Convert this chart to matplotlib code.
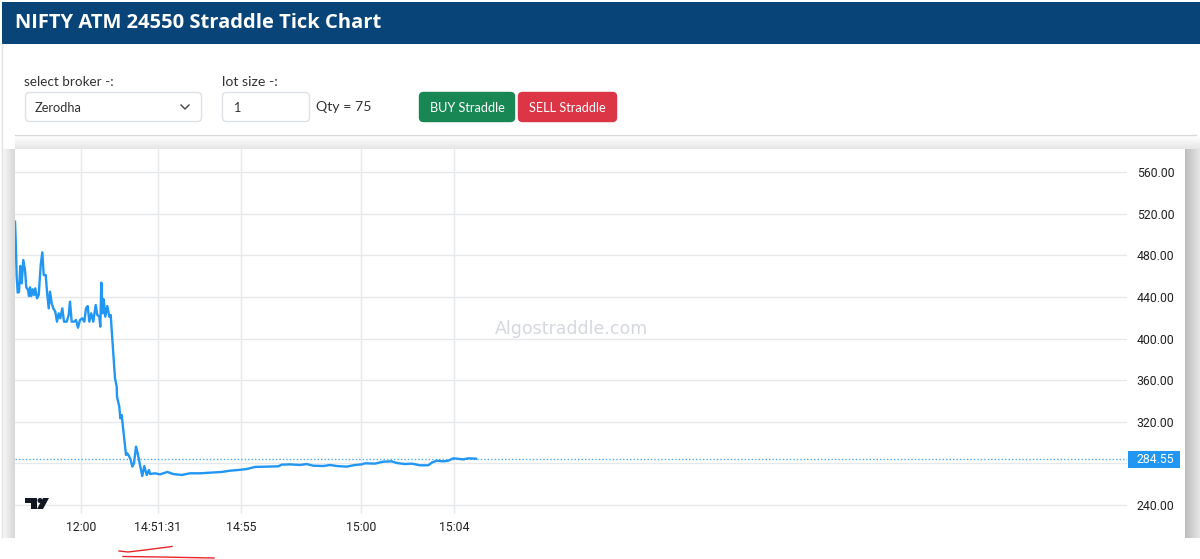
import numpy as np
import matplotlib
matplotlib.use("Agg")
import matplotlib.pyplot as plt
from matplotlib.patches import Circle, FancyBboxPatch, Polygon, Rectangle

# tick number (one chart pixel per tick) and straddle price
tick_no = [0, .7, 1.7, 2.7, 4, 5.3, 6.7, 8.3, 10, 11.3, 13, 14, 15, 16.3, 17.7, 19, 20.3, 22, 23.7, 25.7,
           27.3, 28.7, 30.7, 32, 33.7, 35, 36.7, 38.3, 40.3, 42, 43.7, 45.3, 47.3, 49, 51.7, 53.7, 55, 56.7, 59, 61,
           63, 65, 67.3, 69.3, 71, 72.7, 74.3, 76.3, 78.3, 80.7, 82.3, 84.3, 85.3, 86.3, 87.7, 88.7, 90.3, 92.3, 94.3, 95.7,
           96.7, 98.3, 100, 101.7, 102, 104.3, 105.3, 106.7, 108.3, 111, 112.3, 114.3, 115.7, 117.3, 119, 121, 122.3, 125, 127.3, 129.3,
           131.7, 134, 135, 140, 145, 152.3, 158.3, 166.7, 175, 185, 195, 206.7, 215, 223.3, 231.7, 240, 251.7, 263.3, 266.7, 275,
           285, 291.7, 298.3, 308.3, 315, 321.7, 331.7, 340, 346.7, 350, 360, 368.3, 376.7, 381.7, 390, 396.7, 405, 413.3, 416.7, 421.7,
           428.3, 433.3, 438.3, 448.3, 453.3, 461]
price = [512.3, 494.7, 459.4, 444.1, 444.7, 469.7, 453, 475.4, 465.8, 449.2, 446.6, 440.8, 449.2, 440.8, 447.3, 441.8, 448.2, 438.6, 441.8, 470.6,
         482.8, 461, 461, 445, 429, 445, 433.8, 429, 425.8, 416.2, 424.2, 419.4, 429, 416.2, 416.2, 422.6, 435.4, 416.2, 416.2, 417.8,
         410.4, 417.8, 419.4, 416.2, 429, 431.2, 416.2, 424.2, 416.2, 432.2, 422.6, 421, 411.4, 453.7, 424.2, 437.7, 421, 431.2, 421, 422.6,
         408.2, 385.8, 361.8, 353.8, 344.1, 334.5, 323.3, 326.5, 312.1, 288.1, 289.7, 286.5, 283.3, 276.9, 280.1, 296.1, 291.3, 278.5, 267.9, 277.5,
         268.9, 273.7, 269.8, 270.5, 269.5, 271.8, 269.8, 268.9, 270.5, 270.5, 271.1, 271.8, 273, 273.7, 274.6, 276.6, 276.9, 277.2, 278.8, 279.1,
         278.5, 279.4, 277.8, 277.5, 278.5, 277.5, 276.9, 278.5, 279.1, 280.1, 279.8, 281.7, 282, 280.4, 279.4, 279.8, 278.2, 278.2, 280.7, 282.6,
         282, 282.6, 284.9, 283.9, 284.9, 284.55]
last_price = 284.55

time_ticks = [66, 143, 226, 346, 439]
time_labels = ["12:00", "14:51:31", "14:55", "15:00", "15:04"]
price_ticks = [240, 280, 320, 360, 400, 440, 480, 520, 560]
price_labels = ["240.00", "", "320.00", "360.00", "400.00", "440.00", "480.00", "520.00", "560.00"]  # 280 sits under the last price tag

BLUE = "#2196f3"
GRID = "#e6e9ec"
UI_FONT = "Lato"

fig = plt.figure(figsize=(12, 5.59), dpi=100, facecolor="white")

# page furniture, drawn in pixel coordinates
page = fig.add_axes([0, 0, 1, 1])

page.add_patch(Rectangle((2, 2), 1198, 42, color="#084478", lw=0))
page.text(15, 23.5, "NIFTY ATM 24550 Straddle Tick Chart", color="white", fontsize=14.5,
          fontweight="bold", family="Open Sans", va="center")
page.plot([2, 2], [44, 537], color="#e3e3e3", lw=1)

page.text(24, 82, "select broker -:", fontsize=9.7, family=UI_FONT, color="#333333", va="center")
page.text(222, 82, "lot size -:", fontsize=10.2, family=UI_FONT, color="#333333", va="center")
page.text(316, 107, "Qty = 75", fontsize=10.2, family=UI_FONT, color="#333333", va="center")


def box(x0, x1, face, edge):
    page.add_patch(FancyBboxPatch((x0 + 3.5, 95.5), x1 - x0 - 7, 23, boxstyle="round,pad=3,rounding_size=4",
                                  facecolor=face, edgecolor=edge, lw=1))


box(25, 202, "white", "#dee2e6")
box(222, 310, "white", "#dee2e6")
box(419, 515, "#198754", "#198754")
box(518, 617, "#dc3545", "#dc3545")
page.text(35, 107.5, "Zerodha", fontsize=9.2, family=UI_FONT, color="#333333", va="center")
page.text(233, 107.5, "1", fontsize=9.2, family=UI_FONT, color="#333333", va="center")
page.plot([181, 185, 189], [105, 109, 105], color="#444444", lw=1)
page.text(467, 107.5, "BUY Straddle", fontsize=9.2, family=UI_FONT, color="white", va="center", ha="center")
page.text(567.5, 107.5, "SELL Straddle", fontsize=9.2, family=UI_FONT, color="white", va="center", ha="center")

# shadows around the chart panel
left_fade = np.linspace(0.97, 0.84, 32).reshape(1, -1)
right_fade = np.linspace(0.74, 0.90, 32).reshape(1, -1)
top_fade = np.linspace(1.0, 0.90, 32).reshape(-1, 1)
page.imshow(left_fade, extent=(3, 15, 538, 149), cmap="gray", vmin=0, vmax=1, aspect="auto")
page.imshow(right_fade, extent=(1185, 1200, 538, 149), cmap="gray", vmin=0, vmax=1, aspect="auto")
page.imshow(top_fade, extent=(15, 1200, 149, 136), cmap="gray", vmin=0, vmax=1, aspect="auto")
page.plot([15, 1196], [135, 135], color="#d9d9d9", lw=1)

# pen marks under the time axis
page.plot([119, 128, 145, 172], [551, 552, 550, 546.5], color="#e8262a", lw=1)
page.plot([123, 160, 214], [556.5, 557, 558], color="#e8262a", lw=1)

page.set_xlim(0, 1200)
page.set_ylim(559, 0)
page.axis("off")

# tick chart
ax = fig.add_axes([15 / 1200, 1 - 514 / 559, 1112 / 1200, 365 / 559], facecolor="none")
ax.set_xlim(0, 1112)
ax.set_ylim(231.4, 582.1)
ax.grid(True, color=GRID, lw=1)
ax.set_axisbelow(True)
for side in ax.spines.values():
    side.set_visible(False)

ax.plot(tick_no, price, color=BLUE, lw=1.7, solid_joinstyle="round", zorder=3)
ax.axhline(last_price, color=BLUE, lw=1, ls=(0, (1, 1.5)), alpha=0.8, zorder=2)

ax.set_xticks(time_ticks)
ax.set_xticklabels(time_labels)
ax.set_yticks(price_ticks)
ax.set_yticklabels(price_labels)
ax.yaxis.tick_right()
ax.tick_params(axis="both", length=0, labelsize=8.8, labelcolor="#222222")
ax.tick_params(axis="x", pad=5)
ax.tick_params(axis="y", pad=7)
for lab in ax.get_xticklabels() + ax.get_yticklabels():
    lab.set_family("Roboto")

page_tf = page.transData
ax.text(571, 328.5, "Algostraddle.com", transform=page_tf, fontsize=12.5, color="#d5d8e0",
        family="DejaVu Sans", ha="center", va="center")

ax.add_patch(Rectangle((1128, 451), 52, 17, transform=page_tf, color=BLUE, lw=0, clip_on=False))
ax.text(1155, 459.5, f"{last_price:.2f}", transform=page_tf, color="white", fontsize=8.8, family="Roboto",
        ha="center", va="center")

# TradingView mark
logo = "#131722"
ax.add_patch(Polygon([(25, 498), (37, 498), (37, 509), (31, 509), (31, 503), (25, 503)],
                     transform=page_tf, color=logo, lw=0, zorder=4))
ax.add_patch(Circle((40, 500.5), 2.5, transform=page_tf, color=logo, lw=0, zorder=4))
ax.add_patch(Polygon([(43, 498), (49, 498), (43, 509), (37, 509)], transform=page_tf, color=logo, lw=0, zorder=4))

fig.savefig("out.png", dpi=100)
